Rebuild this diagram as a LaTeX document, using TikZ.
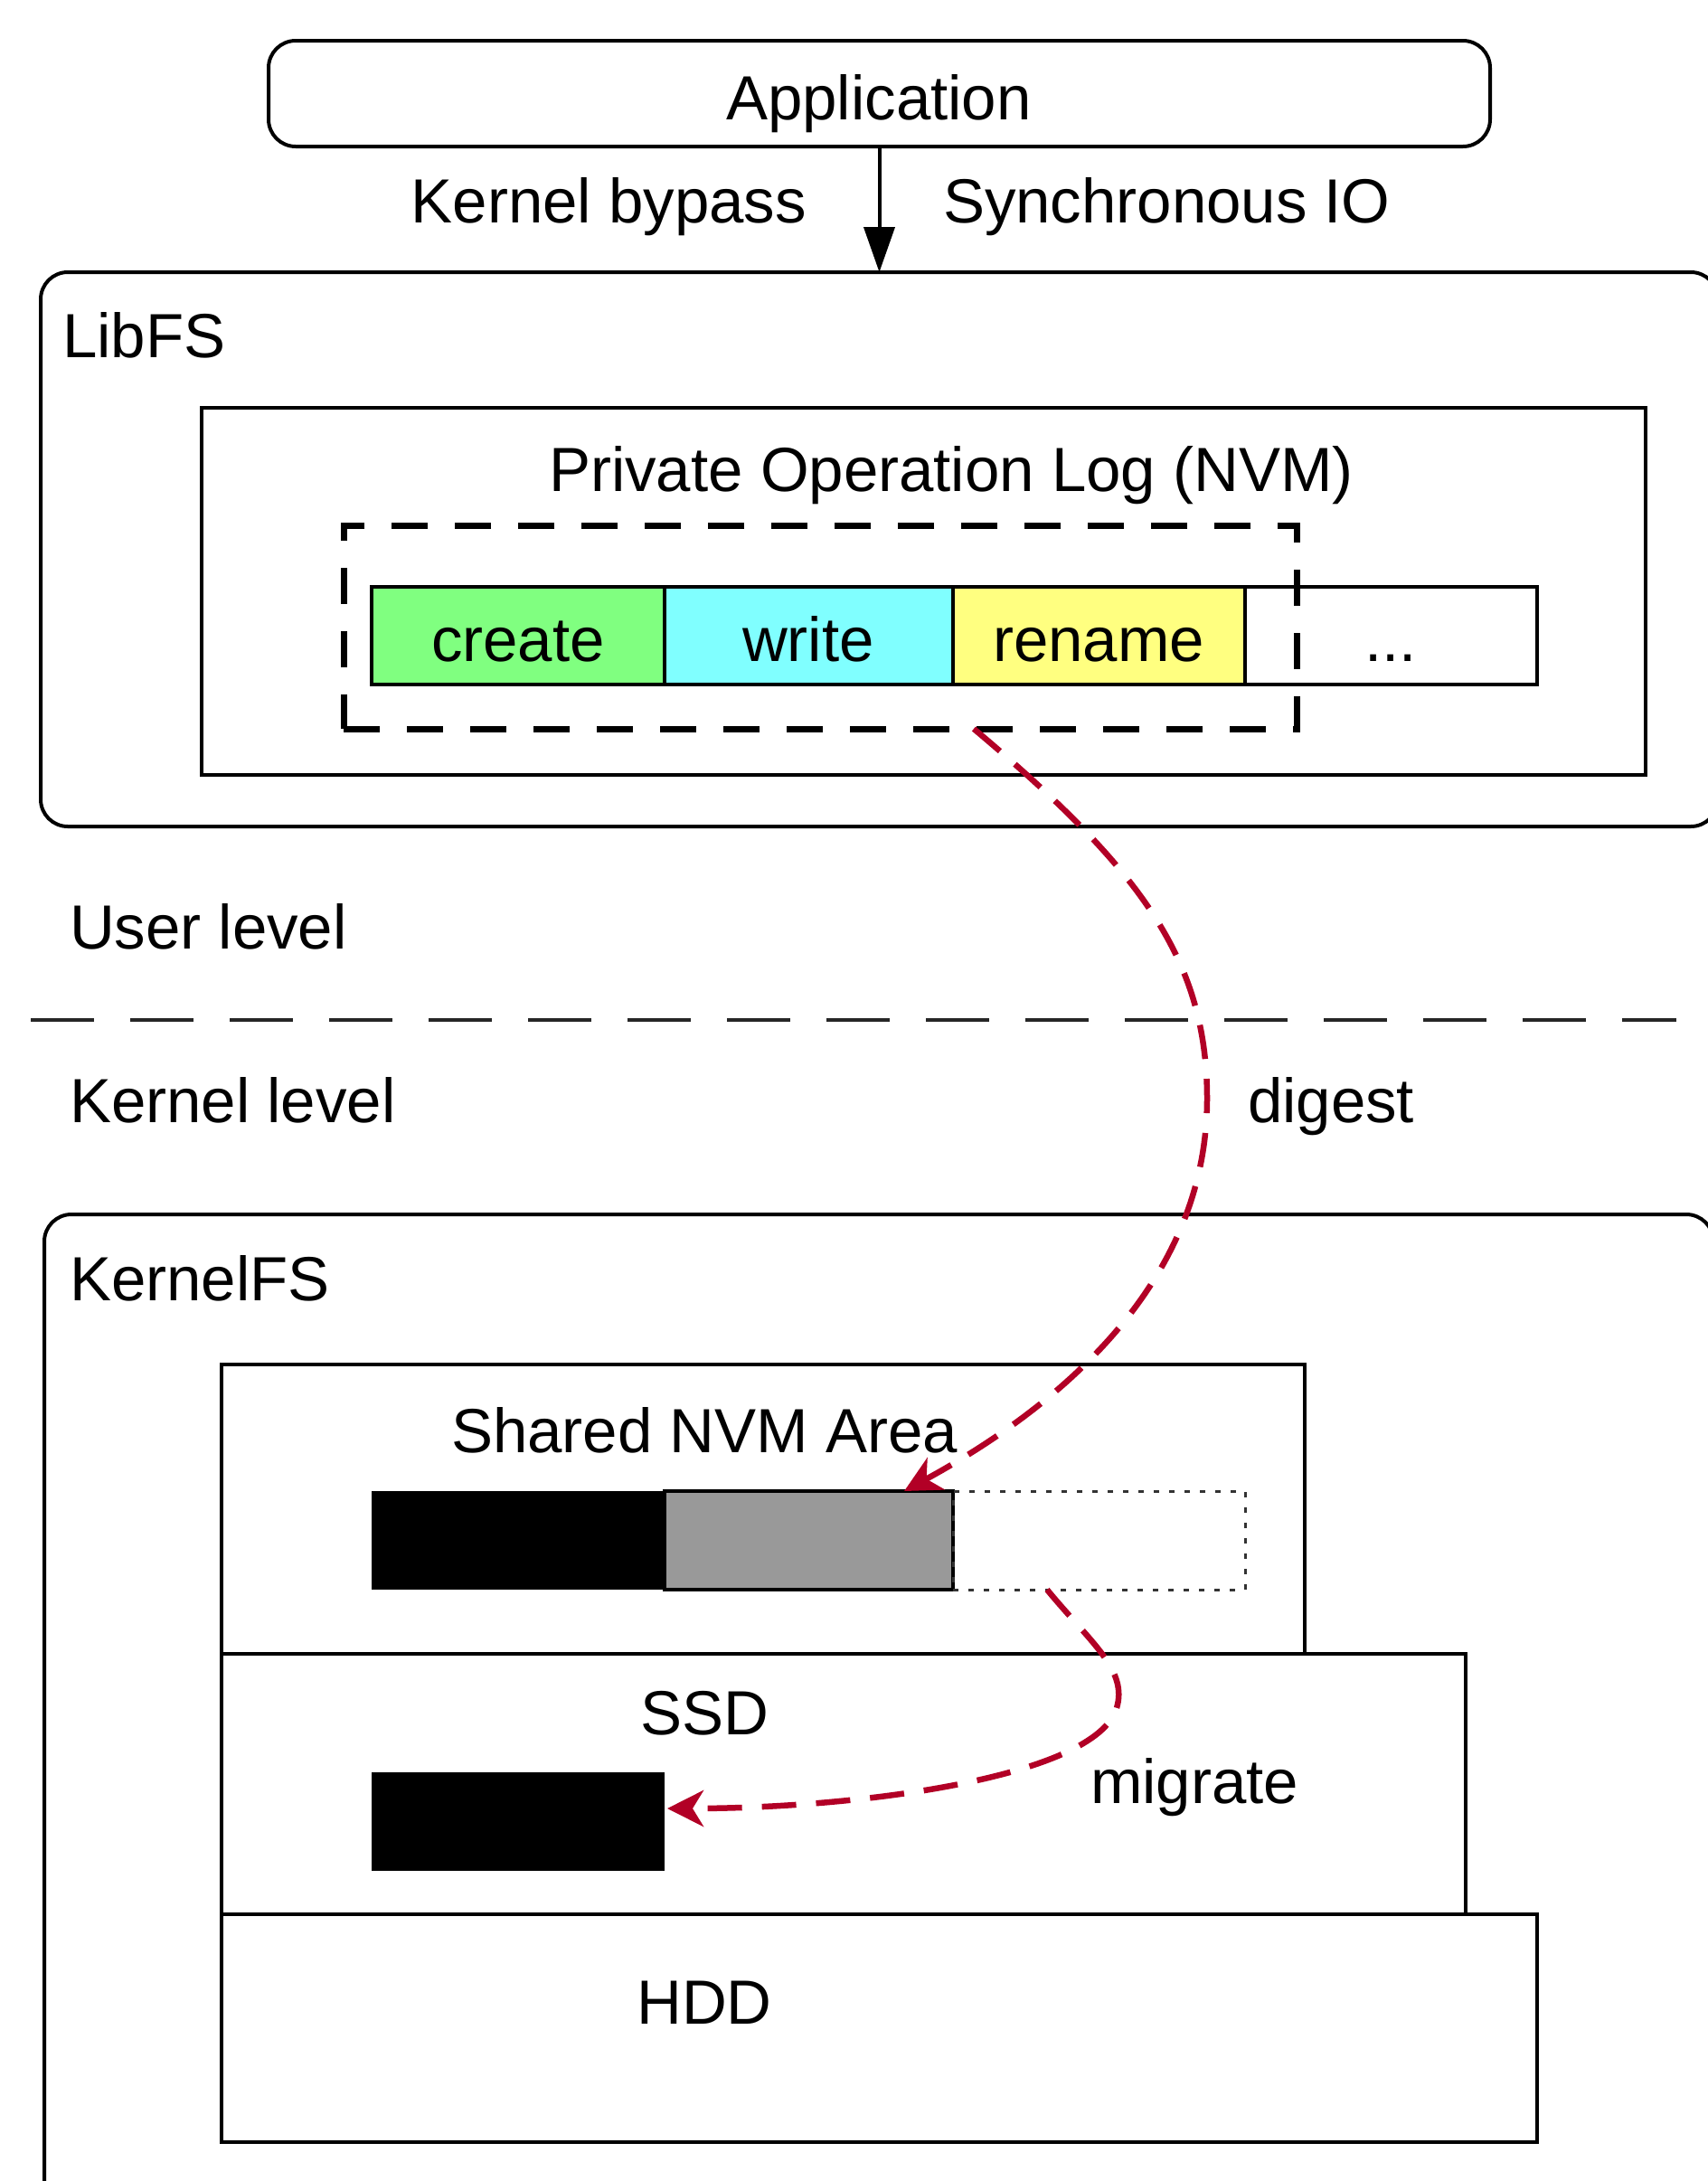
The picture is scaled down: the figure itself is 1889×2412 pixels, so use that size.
\documentclass[tikz,border=0pt]{standalone}
\usepackage{fontspec}
\setmainfont{Liberation Sans}
\usetikzlibrary{arrows.meta}
\definecolor{flowred}{RGB}{178,0,38}
\definecolor{opgreen}{RGB}{128,255,128}
\definecolor{opcyan}{RGB}{128,255,255}
\definecolor{opyellow}{RGB}{255,255,128}
\definecolor{blockgray}{RGB}{153,153,153}
\begin{document}
\begin{tikzpicture}[x=1pt,y=-1pt,
  every node/.style={font=\fontsize{69}{83}\selectfont, inner sep=0pt, outer sep=0pt},
  txt/.style={anchor=base},
  txtl/.style={anchor=base west},
  txtr/.style={anchor=base east},
  frame/.style={draw=black, line width=4pt, rounded corners=30pt, anchor=north west},
  panel/.style={draw=black, line width=4pt, anchor=north west},
  cell/.style={draw=black, line width=4.5pt, anchor=north west, minimum height=108pt},
  solidblock/.style={fill=black, anchor=north west},
  flow/.style={draw=flowred, line width=6.5pt, dash pattern=on 38pt off 22pt,
    -{Stealth[length=40pt,width=40pt,inset=12pt]}},
]
\useasboundingbox (0,0) rectangle (1889,2412);

% application and the call into LibFS
\node[frame, minimum width=1351pt, minimum height=117pt] (app) at (297,45) {};
\node[txt] (apptext) at (972,132) {Application};
\node[txtr] (bypass) at (892,246) {Kernel bypass};
\node[txtl] (syncio) at (1043,246) {Synchronous IO};

% LibFS with its private operation log
\node[frame, minimum width=1855pt, minimum height=613pt] (libfs) at (45,301) {};
\node[txtl] (libfstext) at (69,395) {LibFS};
\node[panel, minimum width=1597pt, minimum height=406pt] (oplog) at (223,451) {};
\node[txt] (oplogtext) at (1052,543) {Private Operation Log (NVM)};

\node[cell, fill=opgreen, minimum width=324pt] (create) at (411,649) {};
\node[cell, fill=opcyan, minimum width=319pt] (write) at (735,649) {};
\node[cell, fill=opyellow, minimum width=323pt] (rename) at (1054,649) {};
\node[cell, fill=white, minimum width=323pt] (more) at (1377,649) {};
\node[txt] (createtext) at (573,731) {create};
\node[txt] (writetext) at (894,731) {write};
\node[txt] (renametext) at (1215,731) {rename};
\node[txt] (moretext) at (1538,731) {...};

\node[draw=black, line width=7pt, dash pattern=on 40pt off 30pt, anchor=north west,
  minimum width=1054pt, minimum height=225pt] (batch) at (380,581) {};

% privilege boundary
\coordinate (sepl) at (34,1128);
\coordinate (sepr) at (1854,1128);
\draw[black!85, line width=3.5pt, dash pattern=on 70pt off 40pt] (sepl) -- (sepr);
\node[txtl] (userlevel) at (77,1049) {User level};
\node[txtl] (kernellevel) at (77,1241) {Kernel level};

% KernelFS and its storage tiers
\node[frame, minimum width=1846pt, minimum height=1100pt] (kernelfs) at (49,1343) {};
\node[txtl] (kernelfstext) at (77,1438) {KernelFS};

\node[panel, minimum width=1198pt, minimum height=320pt] (shared) at (245,1509) {};
\node[txt] (sharedtext) at (779,1606) {Shared NVM Area};
\node[solidblock, minimum width=324pt, minimum height=109pt] (digested) at (411,1649) {};
\node[draw=black, line width=4pt, fill=blockgray, anchor=north west,
  minimum width=319pt, minimum height=109pt] (fresh) at (735,1649) {};
\node[draw=black!80, line width=3pt, dash pattern=on 6pt off 11pt, anchor=north west,
  minimum width=323pt, minimum height=109pt] (free) at (1054,1649) {};

\node[panel, minimum width=1376pt, minimum height=288pt] (ssd) at (245,1829) {};
\node[txt] (ssdtext) at (779,1918) {SSD};
\node[solidblock, minimum width=324pt, minimum height=109pt] (migrated) at (411,1960) {};

\node[panel, minimum width=1455pt, minimum height=252pt] (hdd) at (245,2117) {};
\node[txt] (hddtext) at (779,2238) {HDD};

% connectors
\draw[line width=4pt, -{Triangle[length=50pt,width=34pt]}] (app.south) -- (libfs.north);

\coordinate (dstart) at (1077,806);
\coordinate (dmid) at (1335,1215);
\coordinate (dend) at (1000,1649);
\draw[flow] (dstart) .. controls (1260,960) and (1335,1060) .. (dmid)
  .. controls (1335,1400) and (1200,1540) .. (dend);
\node[txtl] (digest) at (1380,1241) {digest};

\coordinate (mstart) at (1158,1758);
\coordinate (mmid) at (1236,1885);
\coordinate (mend) at (738,2000);
\draw[flow] (mstart) .. controls (1205,1815) and (1245,1845) .. (mmid)
  .. controls (1220,1965) and (950,2000) .. (mend);
\node[txtl] (migrate) at (1206,1994) {migrate};
\end{tikzpicture}
\end{document}
